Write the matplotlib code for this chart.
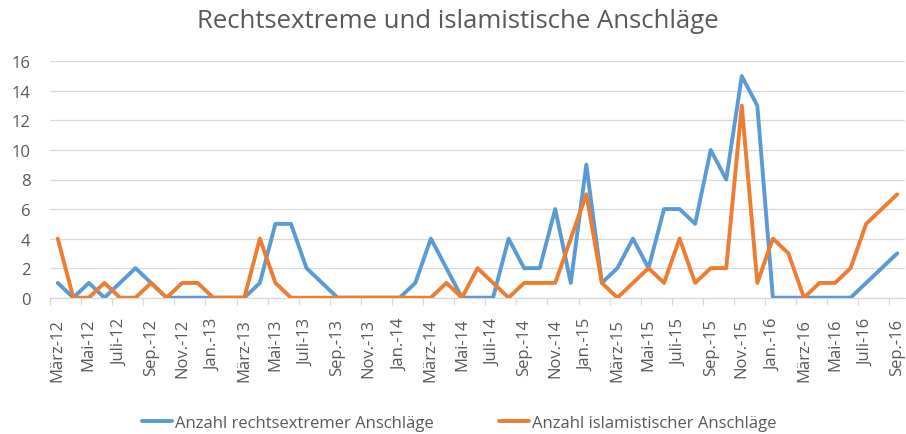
import matplotlib
matplotlib.use('Agg')
import numpy as np
from matplotlib import pyplot as plt

### Data
cal_names = ['Jan.', 'Feb.', 'März', 'Apr.', 'Mai', 'Juni', 'Juli', 'Aug.', 'Sep.', 'Okt.', 'Nov.', 'Dez.']
labels = []
for year in range(12, 17):
    for m in range(12):
        # Series runs from März 2012 to Sep. 2016
        if year == 12 and m < 2:
            continue
        if year == 16 and m > 8:
            continue
        labels.append(cal_names[m] + '-' + str(year))

rechts = [1, 0, 1, 0, 1, 2, 1, 0, 0, 0, 0, 0, 0, 1, 5, 5, 2, 1, 0, 0,
          0, 0, 0, 1, 4, 2, 0, 0, 0, 4, 2, 2, 6, 1, 9, 1, 2, 4, 2, 6,
          6, 5, 10, 8, 15, 13, 0, 0, 0, 0, 0, 0, 1, 2, 3]
islam = [4, 0, 0, 1, 0, 0, 1, 0, 1, 1, 0, 0, 0, 4, 1, 0, 0, 0, 0, 0,
         0, 0, 0, 0, 0, 1, 0, 2, 1, 0, 1, 1, 1, 4, 7, 1, 0, 1, 2, 1,
         4, 1, 2, 2, 13, 1, 4, 3, 0, 1, 1, 2, 5, 6, 7]

### Plot
plt.rcParams['font.family'] = ['Open Sans', 'DejaVu Sans']
txt = '#595959'
fs = 12

fig = plt.figure(figsize=(9.06, 4.35), dpi=100)
ax = fig.add_axes([50/906, 1 - 298.7/435, 855/906, (298.7 - 62.3)/435])

x = np.arange(len(labels))
ax.plot(x, rechts, color='#5B9BD5', lw=2.8, solid_joinstyle='round',
        solid_capstyle='round', label='Anzahl rechtsextremer Anschläge', zorder=3)
ax.plot(x, islam, color='#ED7D31', lw=2.8, solid_joinstyle='round',
        solid_capstyle='round', label='Anzahl islamistischer Anschläge', zorder=4)

ax.set_xlim(-0.5, len(labels) - 0.5)
ax.set_ylim(0, 16)
ax.set_yticks(range(0, 17, 2))
ax.grid(axis='y', color='#D9D9D9', lw=0.9)
ax.set_axisbelow(True)

# Category labels every 2 months, ticks at category boundaries
ax.set_xticks(x[::2])
ax.set_xticklabels(labels[::2], rotation=90, fontsize=fs, color=txt)
ax.tick_params(axis='x', length=0, pad=14.5)
ax.set_xticks(np.arange(-0.5, len(labels), 2), minor=True)
ax.tick_params(axis='x', which='minor', length=5, color='#D9D9D9', width=0.9)
ax.tick_params(axis='y', length=0, labelsize=fs, labelcolor=txt, pad=14)

for s in ['top', 'right', 'left']:
    ax.spines[s].set_visible(False)
ax.spines['bottom'].set_color('#D9D9D9')
ax.spines['bottom'].set_linewidth(0.9)

fig.text(0.505, 1 - 21/435, 'Rechtsextreme und islamistische Anschläge',
         ha='center', va='center', fontsize=18.5, color=txt)

fig.legend(loc='center', bbox_to_anchor=(0.507, 1 - 424/435), ncol=2, frameon=False,
           fontsize=fs, labelcolor=txt, handlelength=1.8, handletextpad=0.2,
           columnspacing=3.9)

plt.savefig('out.png', dpi=100)
